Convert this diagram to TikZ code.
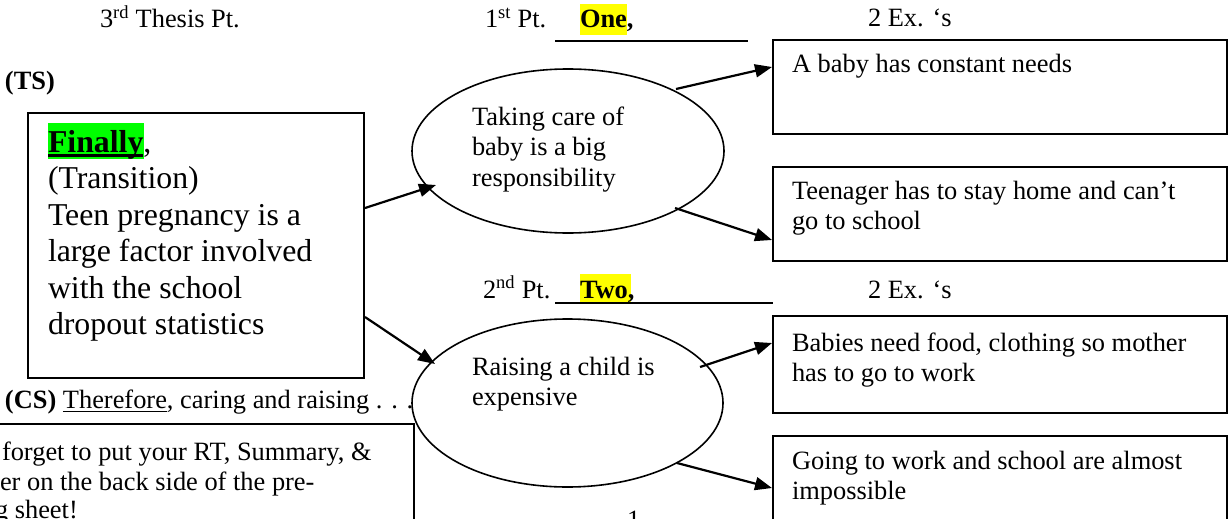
\documentclass[tikz,border=0pt]{standalone}
\usepackage{fontspec}
\setmainfont{Liberation Serif}
\usetikzlibrary{arrows.meta,shapes.geometric,calc}
\definecolor{hlgreen}{RGB}{0,255,0}
\definecolor{hlyellow}{RGB}{255,255,0}
\newcommand\myuline[3]{\setbox0=\hbox{#3}\leavevmode\rlap{\vrule width\wd0 height -#1 depth #2}\box0}
\begin{document}
\begin{tikzpicture}[x=1pt,y=-1pt,
  small/.style={font=\fontsize{26.4}{30.5}\selectfont},
  big/.style={font=\fontsize{31.8}{36.5}\selectfont},
  txt/.style={inner sep=0pt, outer sep=0pt, anchor=base west},
  box/.style={draw, line width=2pt, rectangle, inner sep=0pt, anchor=north west},
  oval/.style={draw, ellipse, line width=1.6pt, inner sep=0pt},
  arr/.style={line width=2.2pt, -{Triangle[length=17pt,width=13pt]}},
  rule/.style={line width=1.4pt}
]
\useasboundingbox (0,0) rectangle (1228,519);
\fill[white] (0,0) rectangle (1228,519);
\clip (0,0) rectangle (1228,519);

% highlights
\fill[hlgreen] (48,123) rectangle (144,159);
\fill[hlyellow] (580,4) rectangle (627,35);
\fill[hlyellow] (580,274) rectangle (631,302);

% top labels
\node[txt,small] (thesis) at (100,28) {3\textsuperscript{rd} Thesis Pt.};
\node[txt,small] (ts) at (5,89) {\textbf{(TS)}};
\node[txt,small] (pt1) at (485,28) {1\textsuperscript{st} Pt.};
\node[txt,small] (one) at (580,28) {\textbf{One,}};
\draw[rule] (555,41) -- (748,41);
\node[txt,small] (ex1) at (868,27) {2 Ex. ‘s};
\node[txt,small] (pt2) at (483,298) {2\textsuperscript{nd} Pt.};
\node[txt,small] (two) at (580,298) {\textbf{Two,}};
\draw[rule] (555,303) -- (773,303);
\node[txt,small] (ex2) at (868,298) {2 Ex. ‘s};

% main box
\node[box, minimum width=336pt, minimum height=265pt] (main) at (27,112) {};
\node[txt,big] (maintext) at (48,152) {\parbox[t]{310pt}{\raggedright\myuline{2.3pt}{5pt}{\textbf{Finally}},\\(Transition)\\Teen pregnancy is a\\large factor involved\\with the school\\dropout statistics}};

% concluding sentence
\node[txt,small] (cs) at (5,408) {\textbf{(CS)} \myuline{2.8pt}{4.4pt}{Therefore}, caring and raising . . .};

% bottom-left note box
\node[box, minimum width=433pt, minimum height=140pt] (note) at (-20,423) {};
\node[txt,small] (note1) at (2,460) {forget to put your RT, Summary, \&};
\node[txt,small] (note2) at (0,490) {er on the back side of the pre-};
\node[txt,small] (note3) at (-5,518) {g sheet!};

% page number
\node[txt,small] (pagenum) at (627,528) {1};

% ellipses
\node[oval, minimum width=312pt, minimum height=164pt] (e1) at (568,151) {};
\node[txt,small] (e1text) at (472,125) {\parbox[t]{200pt}{\raggedright Taking care of\\baby is a big\\responsibility}};
\node[oval, minimum width=311pt, minimum height=168pt] (e2) at (567.5,403) {};
\node[txt,small] (e2text) at (472,375) {\parbox[t]{200pt}{\raggedright Raising a child is\\expensive}};

% right boxes
\node[box, minimum width=454pt, minimum height=94pt] (bA) at (772,39) {};
\node[txt,small] (bAtext) at (792,73) {A baby has constant needs};
\node[box, minimum width=454pt, minimum height=94pt] (bB) at (772,166) {};
\node[txt,small] (bBtext) at (792,199) {\parbox[t]{430pt}{\raggedright Teenager has to stay home and can’t\\go to school}};
\node[box, minimum width=454pt, minimum height=97pt] (bC) at (772,315) {};
\node[txt,small] (bCtext) at (792,351) {\parbox[t]{430pt}{\raggedright Babies need food, clothing so mother\\has to go to work}};
\node[box, minimum width=454pt, minimum height=130pt] (bD) at (772,435) {};
\node[txt,small] (bDtext) at (792,469) {\parbox[t]{430pt}{\raggedright Going to work and school are almost\\impossible}};

% arrows
\draw[arr] ($(main.north east)+(0,96)$) -- ($(e1.center)+(-132,34)$);
\draw[arr] ($(main.north east)+(0,205)$) -- ($(e2.center)+(-132.5,-39)$);
\draw[arr] ($(e1.center)+(108,-62)$) -- ($(bA.north west)+(0,28)$);
\draw[arr] ($(e1.center)+(107,57)$) -- ($(bB.north west)+(0,74)$);
\draw[arr] ($(e2.center)+(132.5,-36)$) -- ($(bC.north west)+(0,28)$);
\draw[arr] ($(e2.center)+(109.5,60)$) -- ($(bD.north west)+(0,53)$);
\end{tikzpicture}
\end{document}
